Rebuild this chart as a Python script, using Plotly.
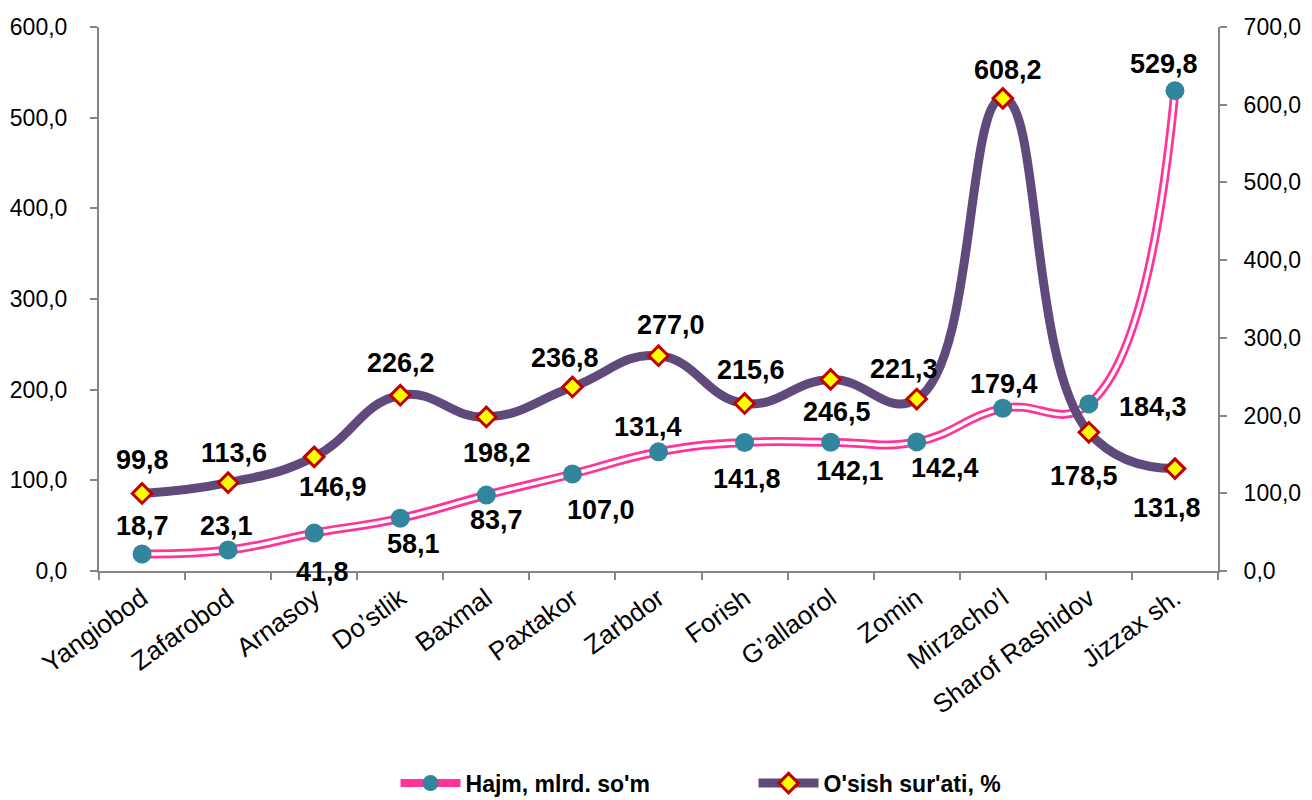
import plotly.graph_objects as go

# ---- data ----
categories = ["Yangiobod", "Zafarobod", "Arnasoy", "Do\u2019stlik", "Baxmal", "Paxtakor",
              "Zarbdor", "Forish", "G\u2019allaorol", "Zomin", "Mirzacho\u2019l",
              "Sharof Rashidov", "Jizzax sh."]
hajm = [18.7, 23.1, 41.8, 58.1, 83.7, 107.0, 131.4, 141.8, 142.1, 142.4, 179.4, 184.3, 529.8]
osish = [99.8, 113.6, 146.9, 226.2, 198.2, 236.8, 277.0, 215.6, 246.5, 221.3, 608.2, 178.5, 131.8]
name_hajm = "Hajm, mlrd. so'm"
name_osish = "O'sish sur'ati, %"

# label offsets in pixels (x, y up)
hajm_off = [(0, 28), (-2, 24), (8, -39), (13, -26), (10, -25), (29, -36), (-11, 25),
            (2, -37), (19, -29), (28, -26), (1, 24), (64, -3), (-11, 27)]
osish_off = [(0, 33), (6, 30), (19, -30), (1, 32), (11, -36), (-7, 29), (12, 31),
             (6, 33), (6, -33), (-13, 30), (5, 28), (-5, -44), (-8, -39)]

PINK = "#FF3399"
TEAL = "#31859C"
PURPLE = "#604A7B"
FONT = "Liberation Sans, Arial, sans-serif"
AXIS = "#868686"
SMOOTH = 1.3

def fmt(v):
    return f"{v:.1f}".replace(".", ",")

fig = go.Figure()
# Hajm double line: pink wide + white core
fig.add_trace(go.Scatter(x=categories, y=hajm, mode="lines", yaxis="y",
                         line=dict(color=PINK, width=9, shape="spline", smoothing=SMOOTH),
                         showlegend=False, hoverinfo="skip"))
fig.add_trace(go.Scatter(x=categories, y=hajm, mode="lines", yaxis="y",
                         line=dict(color="white", width=3.5, shape="spline", smoothing=SMOOTH),
                         showlegend=False, hoverinfo="skip"))
fig.add_trace(go.Scatter(x=categories, y=hajm, mode="markers", yaxis="y",
                         marker=dict(symbol="circle", size=19, color=TEAL),
                         showlegend=False, name=name_hajm))
# Growth line
fig.add_trace(go.Scatter(x=categories, y=osish, mode="lines+markers", yaxis="y2",
                         line=dict(color=PURPLE, width=9, shape="spline", smoothing=SMOOTH),
                         marker=dict(symbol="diamond", size=15, color="#FFFF00",
                                     line=dict(color="#C00000", width=3)),
                         showlegend=False, name=name_osish))
# legend entries
fig.add_trace(go.Scatter(x=[None], y=[None], mode="lines+markers", name=name_hajm,
                         line=dict(color=PINK, width=8),
                         marker=dict(symbol="circle", size=19, color=TEAL)))
fig.add_trace(go.Scatter(x=[None], y=[None], mode="lines+markers", name=name_osish,
                         line=dict(color=PURPLE, width=9),
                         marker=dict(symbol="diamond", size=15, color="#FFFF00",
                                     line=dict(color="#C00000", width=3))))

annotations = []
for c, v, (dx, dy) in zip(categories, hajm, hajm_off):
    annotations.append(dict(x=c, y=v, xref="x", yref="y", text=fmt(v), showarrow=False,
                            xshift=dx, yshift=dy,
                            font=dict(family=FONT, size=27, color="black", weight="bold")))
for c, v, (dx, dy) in zip(categories, osish, osish_off):
    annotations.append(dict(x=c, y=v, xref="x", yref="y2", text=fmt(v), showarrow=False,
                            xshift=dx, yshift=dy,
                            font=dict(family=FONT, size=27, color="black", weight="bold")))

fig.update_layout(
    width=1312, height=800,
    margin=dict(l=91, r=102, t=19, b=237, autoexpand=False),
    paper_bgcolor="white", plot_bgcolor="white",
    separators=", ",
    font=dict(family=FONT, size=23, color="black"),
    xaxis=dict(type="category", range=[-0.5, 12.5], showgrid=False, zeroline=False,
               showline=True, linecolor=AXIS, linewidth=2, ticks="outside",
               tickson="boundaries", ticklen=7, tickcolor=AXIS, tickwidth=2,
               tickangle=-36, tickfont=dict(family=FONT, size=26, color="black")),
    yaxis=dict(range=[0, 600], dtick=100, tickformat=".1f", showgrid=False, zeroline=False,
               showline=True, linecolor=AXIS, linewidth=2, ticks="outside", ticklen=7,
               tickcolor=AXIS, tickwidth=2, ticklabelstandoff=18,
               tickfont=dict(family=FONT, size=23, color="black")),
    yaxis2=dict(range=[0, 700], dtick=100, tickformat=".1f", overlaying="y", side="right",
                showgrid=False, zeroline=False, showline=True, linecolor=AXIS, linewidth=2,
                ticks="outside", ticklen=7, tickcolor=AXIS, tickwidth=2, ticklabelstandoff=12,
                tickfont=dict(family=FONT, size=23, color="black")),
    legend=dict(orientation="h", x=0.265, xanchor="left", y=-0.39, yanchor="middle",
                entrywidth=283, entrywidthmode="pixels", itemwidth=60,
                font=dict(family=FONT, size=23, color="black", weight="bold"),
                bgcolor="rgba(0,0,0,0)"),
    annotations=annotations,
    showlegend=True,
)

fig.write_html("out.html")
